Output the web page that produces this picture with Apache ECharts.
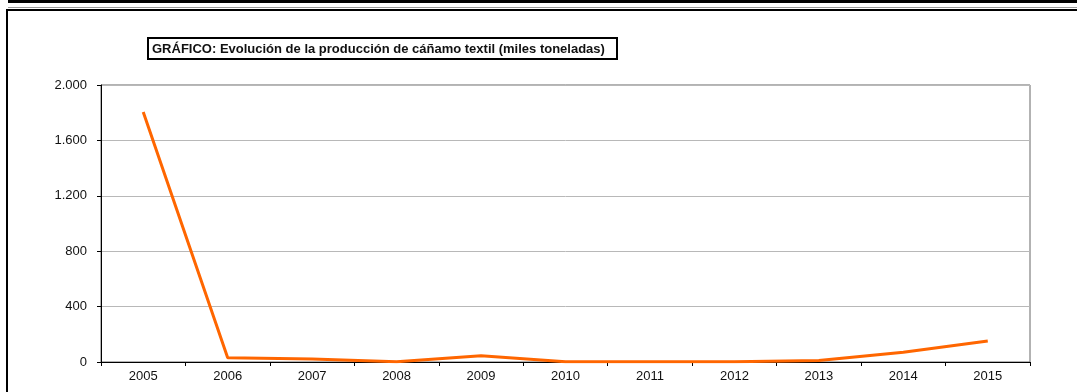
<!DOCTYPE html>
<html><head><meta charset="utf-8">
<script src="https://cdn.jsdelivr.net/npm/echarts@6/dist/echarts.min.js"></script>
<style>html,body{margin:0;padding:0;background:#fff}#c{width:1077px;height:392px}</style>
</head><body><div id="c"></div>
<script>
const years = ['2005','2006','2007','2008','2009','2010','2011','2012','2013','2014','2015'];
const produccion = [1805, 30, 22, 2, 45, 1, 1, 1, 10, 70, 152];
const yTicks = [0, 400, 800, 1200, 1600, 2000];
const titleText = 'GRÁFICO: Evolución de la producción de cáñamo textil (miles toneladas)';

const chart = echarts.init(document.getElementById('c'), null, {renderer:'canvas'});
const fontFamily = '"Liberation Sans", Arial, sans-serif';
chart.setOption({
  animation: false,
  textStyle: {fontFamily: fontFamily},
  graphic: [
    {type:'rect', shape:{x:8,y:0,width:1069,height:3}, style:{fill:'#000'}, silent:true},
    {type:'rect', shape:{x:8,y:7,width:1069,height:1}, style:{fill:'#999'}, silent:true},
    {type:'rect', shape:{x:6,y:9,width:1071,height:2}, style:{fill:'#000'}, silent:true},
    {type:'rect', shape:{x:6,y:9,width:2,height:383}, style:{fill:'#000'}, silent:true},
    {type:'rect', shape:{x:148,y:38,width:469,height:21}, style:{fill:'#fff', stroke:'#000', lineWidth:2}, silent:true},
    {type:'text', x:152, y:49, style:{text:titleText, font:'bold 13px "Liberation Sans", Arial, sans-serif', fill:'#111', textVerticalAlign:'middle'}, silent:true}
  ],
  grid: {left:101, top:85, right:47, bottom:30, show:true, borderColor:'#666', borderWidth:1, backgroundColor:'#fff'},
  xAxis: {
    type:'category', data: years, boundaryGap:true,
    axisLine:{lineStyle:{color:'#000', width:1}},
    axisTick:{show:true, length:4, lineStyle:{color:'#000'}},
    axisLabel:{color:'#111', fontSize:13, margin:8, fontFamily:fontFamily}
  },
  yAxis: {
    type:'value', min:yTicks[0], max:yTicks[yTicks.length-1], interval:400,
    axisLine:{show:true, lineStyle:{color:'#000', width:1}},
    axisTick:{show:true, length:4, lineStyle:{color:'#000'}},
    splitLine:{show:true, lineStyle:{color:'#b8b8b8', width:1}},
    axisLabel:{color:'#111', fontSize:13, margin:14, fontFamily:fontFamily,
      formatter: v => v.toString().replace(/\B(?=(\d{3})+(?!\d))/g, '.')}
  },
  series: [{
    type:'line', data: produccion, symbol:'none', smooth:false,
    lineStyle:{color:'#FF6600', width:3}, itemStyle:{color:'#FF6600'}
  }]
});
</script></body></html>
